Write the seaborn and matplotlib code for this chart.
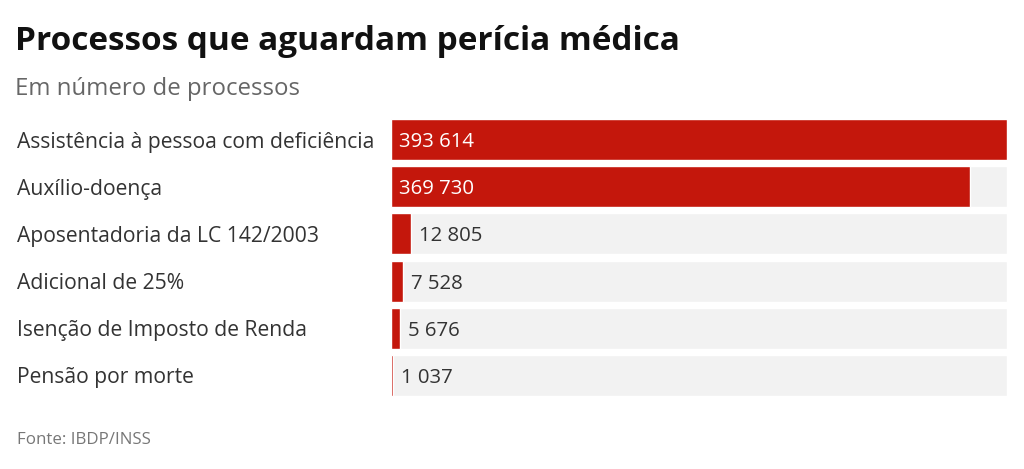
import matplotlib
matplotlib.use("Agg")
import matplotlib.pyplot as plt
import matplotlib.transforms as mtransforms
import seaborn as sns

# data
categories = [
    "Assistência à pessoa com deficiência",
    "Auxílio-doença",
    "Aposentadoria da LC 142/2003",
    "Adicional de 25%",
    "Isenção de Imposto de Renda",
    "Pensão por morte",
]
values = [393614, 369730, 12805, 7528, 5676, 1037]

red = "#c4170c"
track = "#f2f2f2"

sns.set_theme(style="white")
plt.rcParams["font.family"] = ["Open Sans", "DejaVu Sans"]

fig = plt.figure(figsize=(10.24, 4.69), dpi=100)
ax = fig.add_axes([391 / 1024, 1 - 399 / 469, 616 / 1024, 283 / 469])

vmax = max(values)
sns.barplot(x=[vmax] * len(categories), y=categories, color=track,
            width=0.87, saturation=1, ax=ax, orient="h")
sns.barplot(x=values, y=categories, color=red, width=0.87,
            saturation=1, ax=ax, orient="h")

ax.set_xlim(0, vmax)
ax.set_ylim(len(categories) - 0.5, -0.5)
ax.set_xlabel("")
ax.set_ylabel("")
ax.tick_params(left=False, bottom=False, labelleft=False, labelbottom=False)
sns.despine(ax=ax, left=True, bottom=True, top=True, right=True)

# category labels on the left
trans = mtransforms.blended_transform_factory(fig.transFigure, ax.transData)
for i, cat in enumerate(categories):
    ax.text(17 / 1024, i, cat, transform=trans, ha="left", va="center_baseline",
            fontsize=15.2, color="#333333")

# value labels
pad = vmax * 0.013
for i, v in enumerate(values):
    txt = f"{v:,}".replace(",", " ")
    if v > vmax * 0.5:
        ax.text(pad, i, txt, ha="left", va="center_baseline", fontsize=14.7, color="white")
    else:
        ax.text(v + pad, i, txt, ha="left", va="center_baseline", fontsize=14.7, color="#333333")

# titles
fig.text(15 / 1024, 1 - 41 / 469, "Processos que aguardam perícia médica",
         fontsize=24, fontweight="bold", color="#111111", va="center", ha="left")
fig.text(15 / 1024, 1 - 89 / 469, "Em número de processos",
         fontsize=17.3, color="#666666", va="center", ha="left")
fig.text(17 / 1024, 1 - 440 / 469, "Fonte: IBDP/INSS",
         fontsize=12.2, color="#777777", va="center", ha="left")

fig.savefig("out.png", dpi=100, facecolor="white")
